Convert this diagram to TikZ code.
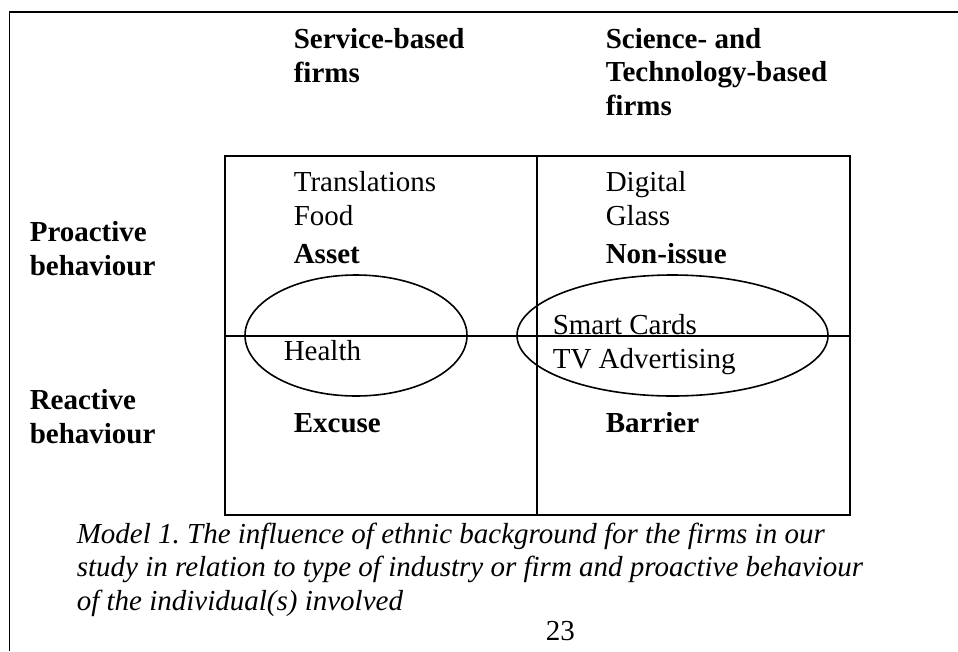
\documentclass[tikz,border=0pt]{standalone}
\usepackage{fontspec}
\setmainfont{Liberation Serif}
\frenchspacing
\begin{document}
\begin{tikzpicture}[x=1pt,y=-1pt,line width=1.6pt,
	txt/.style={anchor=base west,inner sep=0pt,align=left,font=\fontsize{29}{33.3}\selectfont},
	hd/.style={txt,font=\fontsize{29}{33.3}\selectfont\bfseries},
	captxt/.style={txt,font=\fontsize{29}{33.3}\selectfont\itshape}]
	\useasboundingbox (0,0) rectangle (958,651);
	% page frame
	\draw (9.5,651) -- (9.5,12) -- (958,12);
	% the four quadrants
	\draw (225,156) rectangle (850,515);
	\draw (537,156) -- (537,515);
	\draw (225,336) -- (850,336);
	\draw (356,335.5) ellipse [x radius=111,y radius=60.5];
	\draw (672.5,335.5) ellipse [x radius=155.5,y radius=60.5];
	% column and row heads (base = last line)
	\node[hd] (service) at (293,82) {Service-based\\firms};
	\node[hd] (science) at (605,115) {Science- and\\Technology-based\\firms};
	\node[hd] (proactive) at (29,275) {Proactive\\behaviour};
	\node[hd] (reactive) at (29,443) {Reactive\\behaviour};
	% cells
	\node[txt] (transl) at (293,225) {Translations\\Food};
	\node[hd] (asset) at (293,263) {Asset};
	\node[txt] (digital) at (605,225) {Digital\\Glass};
	\node[hd] (nonissue) at (605,263) {Non-issue};
	\node[txt] (health) at (283,360) {Health};
	\node[txt] (smart) at (552,368) {Smart Cards\\TV Advertising};
	\node[hd] (excuse) at (293,432) {Excuse};
	\node[hd] (barrier) at (605,432) {Barrier};
	% caption
	\node[captxt] (caption) at (76,610) {Model 1. The influence of ethnic background for the firms in our\\study in relation to type of industry or firm and proactive behaviour\\of the individual(s) involved};
	\node[txt] (pagenum) at (545,640) {23};
\end{tikzpicture}
\end{document}
